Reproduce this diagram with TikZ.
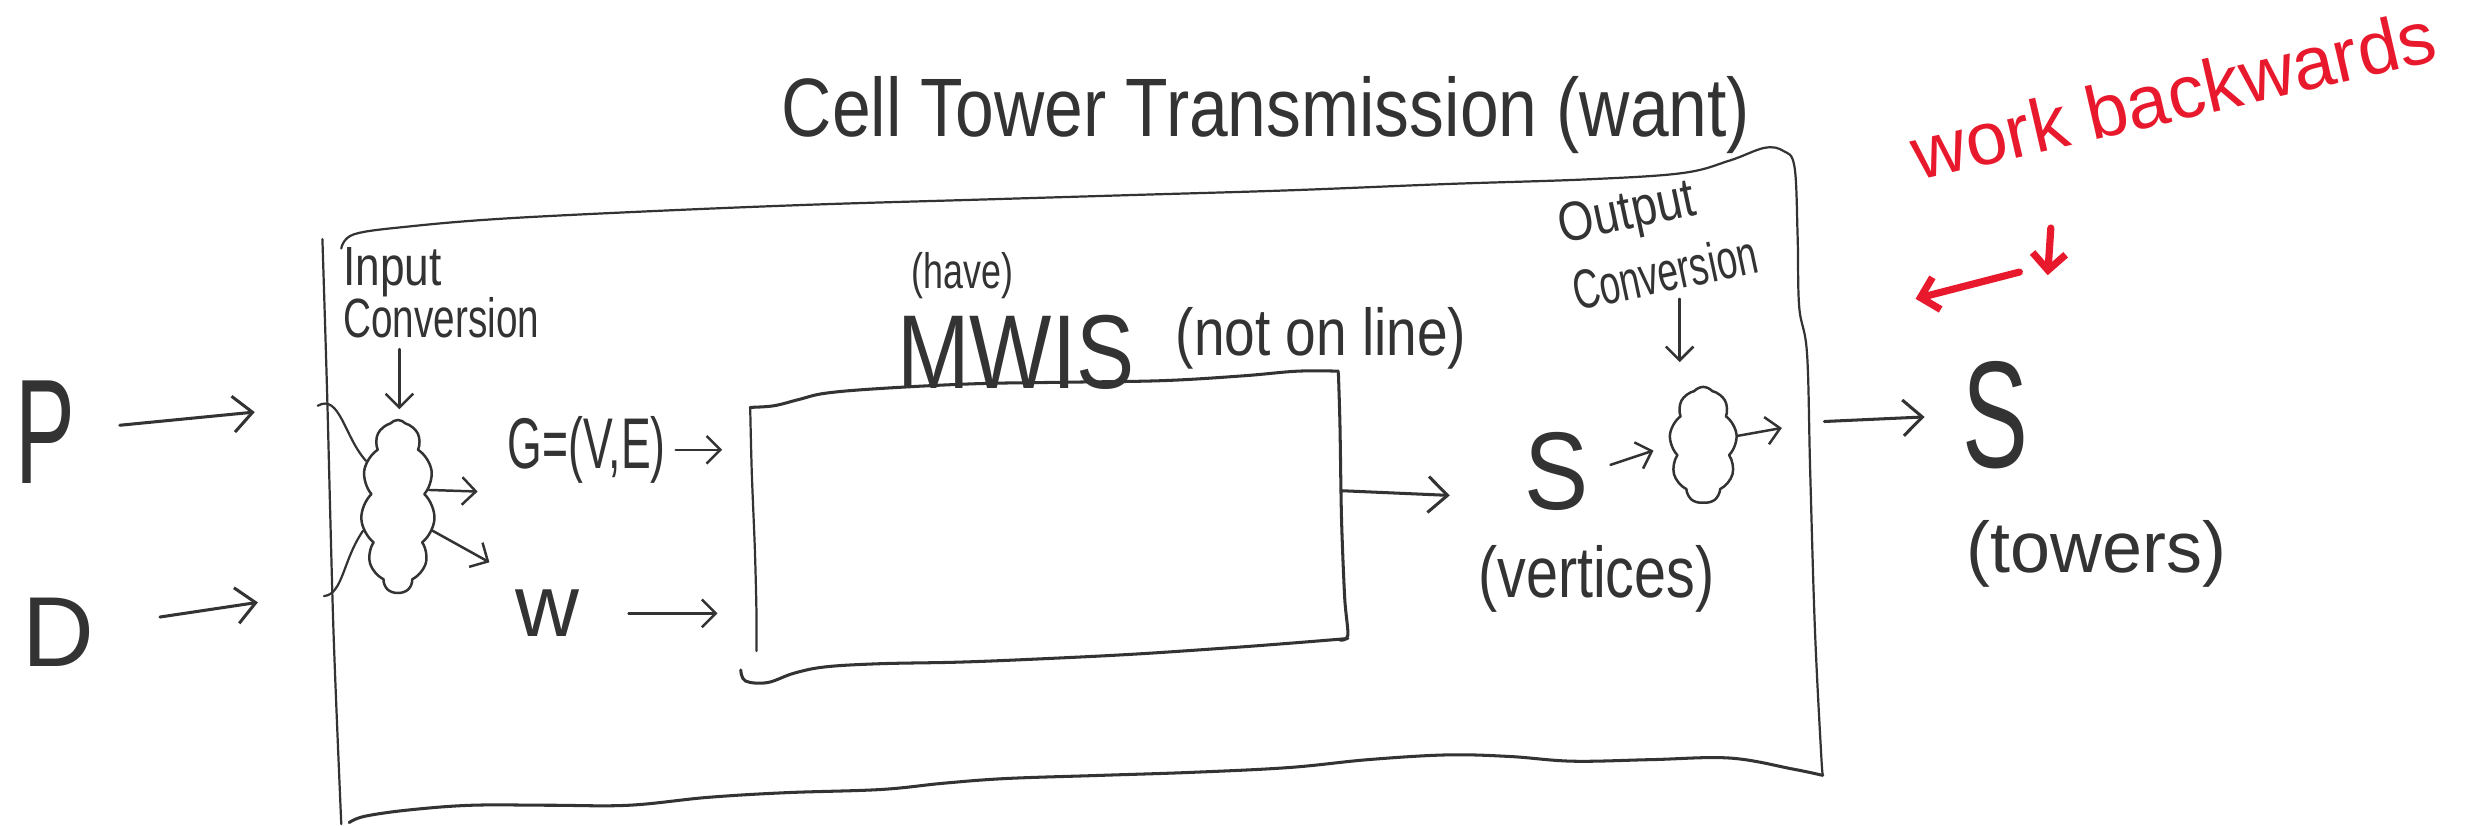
\documentclass[tikz,border=0pt]{standalone}
\usepackage{fontspec}
\setmainfont{Liberation Sans}
\usetikzlibrary{arrows.meta,shapes.symbols}
\definecolor{ink}{HTML}{333333}
\definecolor{pen}{HTML}{E8192C}
\newcommand\hx[2]{\scalebox{#1}[1]{#2}}
\newcommand\fs[1]{\fontsize{#1pt}{#1pt}\selectfont}
\newcommand\fss[2]{\fontsize{#1pt}{#2pt}\selectfont}
\begin{document}
\begin{tikzpicture}[x=0.02cm,y=-0.02cm,line cap=round,line join=round,
  inkline/.style={draw=ink,line width=0.8pt},
  boxline/.style={draw=ink,line width=1.1pt},
  arr/.style={draw=ink,line width=0.9pt,-{Straight Barb[length=5pt,width=10pt]}},
  bigarr/.style={draw=ink,line width=1.1pt,-{Straight Barb[length=7pt,width=13pt]}},
  redarr/.style={draw=pen,line width=2.6pt,-{Straight Barb[length=6pt,width=12pt]}},
  lbl/.style={text=ink,inner sep=0pt,anchor=center},
  blob/.style={cloud,draw=ink,line width=0.9pt,cloud puffs=11,cloud puff arc=100,cloud ignores aspect,inner sep=0pt}
]
\useasboundingbox (0,0) rectangle (1568,525);

% texts
\node[lbl,font=\fs{30}] (title) at (805,73) {\hx{0.84}{Cell Tower Transmission (want)}};
\node[lbl,font=\fs{27},text=pen,rotate=13] (wb) at (1382,60) {work backwards};
\node[lbl,font=\fs{54}] (P) at (29,275) {\hx{0.6}{P}};
\node[lbl,font=\fs{36}] (D) at (37,402) {D};
\node[lbl,font=\fss{20}{19},align=left,anchor=west] (inlbl) at (218,186) {\hx{0.8}{Input}\\\hx{0.7}{Conversion}};
\node[lbl,font=\fs{18}] (have) at (612,175) {\hx{0.72}{(have)}};
\node[lbl,font=\fs{38}] (mwis) at (646,224) {\hx{0.83}{MWIS}};
\node[lbl,font=\fs{24}] (nol) at (840,215) {\hx{0.83}{(not on line)}};
\node[lbl,font=\fs{26}] (G) at (373,286) {\hx{0.62}{G=(V,E)}};
\node[lbl,font=\fs{32}] (w) at (348,390) {w};
\node[lbl,font=\fs{40}] (S1) at (990,300) {\hx{0.87}{S}};
\node[lbl,font=\fs{26}] (vert) at (1015,368) {\hx{0.8}{(vertices)}};
\node[lbl,font=\fss{20}{25},align=left,rotate=12] (outlbl) at (1054,152) {\hx{0.83}{Output}\\\hx{0.67}{Conversion}};
\node[lbl,font=\fs{55}] (S2) at (1269,264) {\hx{0.65}{S}};
\node[lbl,font=\fs{26}] (tow) at (1333,352) {(towers)};

% clouds
\node[blob,minimum width=0.94cm,minimum height=2.2cm] (inc) at (253,322) {};
\node[blob,cloud puffs=9,minimum width=0.86cm,minimum height=1.48cm] (outc) at (1083,283) {};

% inner box (invisible node + hand-drawn outline)
\node[inner sep=0pt,minimum width=7.5cm,minimum height=3.4cm] (box) at (665,333) {};
\draw[boxline] plot[smooth,tension=0.6] coordinates {(477,259) (492,258) (508,254) (525,250) (560,247) (620,244) (680,243) (740,242) (790,239) (825,236) (851,236)};
\draw[boxline] plot[smooth,tension=0.5] coordinates {(851,237) (852,270) (853,330) (855,380) (857,404) (852,407)};
\draw[boxline] plot[smooth,tension=0.6] coordinates {(857,406) (820,409) (780,412) (720,416) (660,419) (610,421) (560,422) (525,424) (505,428) (488,434) (474,433) (471,426)};
\draw[inkline] plot[smooth,tension=0.5] coordinates {(477,259) (478,300) (480,350) (481,390) (481,414)};

% outer box
\draw[inkline] plot[smooth,tension=0.5] coordinates {(205,152) (208,250) (212,400) (217,524)};
\draw[inkline] plot[smooth,tension=0.6] coordinates {(217,158) (225,149) (260,144) (320,139) (420,134) (520,130) (620,127) (720,124) (820,121) (920,117) (1010,114) (1070,110) (1100,102) (1122,94) (1134,96) (1141,106) (1143,150) (1144,195) (1149,225) (1151,300) (1154,400) (1158,480) (1159,492)};
\draw[boxline] plot[smooth,tension=0.6] coordinates {(1159,493) (1140,489) (1100,482) (1050,483) (1000,484) (960,481) (920,480) (870,483) (820,488) (760,491) (700,493) (640,495) (600,498) (560,502) (500,504) (450,507) (400,512) (350,512) (300,512) (260,515) (232,519) (222,523)};

% coordinates
\coordinate (pin) at (162,262);
\coordinate (din) at (164,383);
\coordinate (pe) at (202,258);
\coordinate (de) at (206,379);
\coordinate (ia) at (254,222);
\coordinate (oa) at (1068,190);
\coordinate (sysout) at (1160,268);
\coordinate (r1) at (1304,145);
\coordinate (r2) at (1284,173);
\coordinate (r3) at (1218,190);

% connectors
\draw[bigarr,shorten <=0.56cm] (P) -- (pin);
\draw[bigarr,shorten <=0.84cm] (D) -- (din);
\draw[inkline] (pe) .. controls (216,250) and (219,278) .. (inc.125);
\draw[inkline] (de) .. controls (218,378) and (218,356) .. (inc.215);
\draw[arr] (ia) -- ([yshift=0.12cm]ia |- inc.north);
\draw[arr] (inc.28) -- ++(31,1);
\draw[arr] (inc.-35) -- ++(36,20);
\draw[arr,shorten <=0.12cm,shorten >=0.36cm] (G.east) -- (G.east -| box.west);
\draw[arr,shorten <=0.62cm,shorten >=0.42cm] (w.east) -- (w.east -| box.west);
\draw[bigarr] ([yshift=0.42cm]box.east) -- ++(69,3);
\draw[arr,shorten <=0.28cm,shorten >=0.22cm] (S1.east) -- (outc.west);
\draw[arr] (outc.15) -- ++(28,-5);
\draw[arr] (oa) -- ([yshift=0.3cm]oa |- outc.north);
\draw[bigarr,shorten >=0.48cm] (sysout) -- (S2.west);
\draw[redarr] (r1) -- ++(-2,30);
\draw[redarr] (r2) -- (r3);
\end{tikzpicture}
\end{document}
